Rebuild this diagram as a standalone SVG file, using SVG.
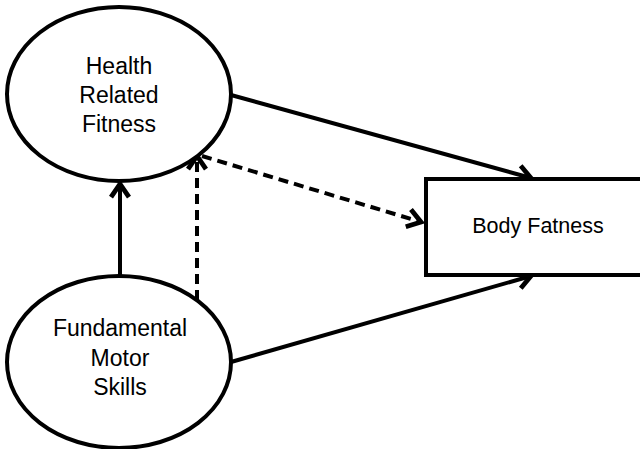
<svg xmlns="http://www.w3.org/2000/svg" width="640" height="449" viewBox="0 0 640 449">
<style>
.shape{fill:#fff;stroke:#000;stroke-width:4}
.lbl{font-family:"Liberation Sans",Arial,sans-serif;font-size:23px;fill:#000;text-anchor:middle}
.c{fill:none;stroke:#000;stroke-width:4}
.d{stroke-dasharray:10 6}
</style>
<defs>
<marker id="ah" markerUnits="userSpaceOnUse" markerWidth="24" markerHeight="24" viewBox="-14 -10 16 20" refX="0" refY="0" orient="auto" overflow="visible">
<path d="M-11,-7.5 L0,0 L-11,7.5" fill="none" stroke="#000" stroke-width="4" stroke-linejoin="miter"/>
</marker>
</defs>
<rect width="640" height="449" fill="#fff"/>
<g id="connectors">
<line class="c" x1="120" y1="276" x2="120" y2="184" marker-end="url(#ah)"/>
<line class="c d" x1="197" y1="300" x2="197" y2="156" marker-end="url(#ah)"/>
<line class="c d" x1="202" y1="156" x2="421" y2="222" marker-end="url(#ah)"/>
<line class="c" x1="231" y1="95" x2="531" y2="178" marker-end="url(#ah)"/>
<line class="c" x1="231" y1="362" x2="531" y2="276" marker-end="url(#ah)"/>
</g>
<g id="hrf">
<ellipse class="shape" cx="119" cy="94" rx="112" ry="87"/>
<text class="lbl" x="119" y="74">Health</text>
<text class="lbl" x="119" y="103">Related</text>
<text class="lbl" x="119" y="132">Fitness</text>
</g>
<g id="fms">
<ellipse class="shape" cx="119" cy="362" rx="112" ry="86"/>
<text class="lbl" x="120" y="336">Fundamental</text>
<text class="lbl" x="120" y="366">Motor</text>
<text class="lbl" x="120" y="395">Skills</text>
</g>
<g id="bf">
<rect class="shape" x="426" y="179" width="220" height="96"/>
<text class="lbl" x="538" y="233" style="font-size:21.5px">Body Fatness</text>
</g>
</svg>
